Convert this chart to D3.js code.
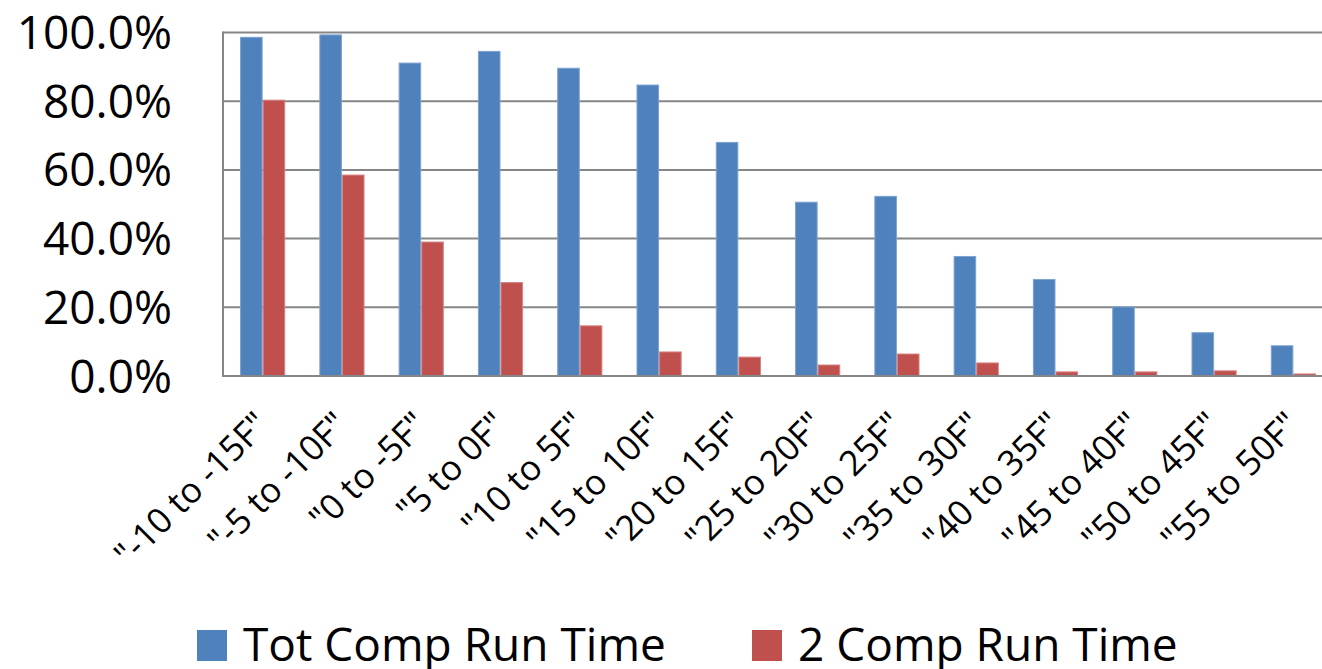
<!DOCTYPE html>
<html>
<head>
<meta charset="utf-8">
<script src="https://cdn.jsdelivr.net/npm/d3@7"></script>
<style>
  html, body { margin: 0; padding: 0; background: #fff; overflow: hidden; }
  svg { display: block; }
  text { font-family: "Open Sans", sans-serif; fill: #000; }
</style>
</head>
<body>
<svg id="chart" width="1322" height="669"></svg>
<script>
const categories = ['"-10 to -15F"', '"-5 to -10F"', '"0 to -5F"', '"5 to 0F"', '"10 to 5F"', '"15 to 10F"', '"20 to 15F"', '"25 to 20F"', '"30 to 25F"', '"35 to 30F"', '"40 to 35F"', '"45 to 40F"', '"50 to 45F"', '"55 to 50F"'];
const seriesNames = ["Tot Comp Run Time", "2 Comp Run Time"];
const totCompRunTime = [0.986, 0.993, 0.911, 0.945, 0.896, 0.847, 0.680, 0.506, 0.523, 0.348, 0.281, 0.201, 0.126, 0.088];
const twoCompRunTime = [0.803, 0.585, 0.390, 0.272, 0.146, 0.070, 0.055, 0.032, 0.064, 0.038, 0.012, 0.012, 0.015, 0.006];
const yTicks = [0, 0.2, 0.4, 0.6, 0.8, 1.0];
const colors = ["#4F81BD", "#C0504D"];
const strokes = ["#7EA3D1", "#D48482"];

const svg = d3.select("#chart");
const x0 = 223, x1 = 1333, yTop = 32.5, yBot = 376;

const x = d3.scaleBand().domain(categories).range([x0, x1]).paddingInner(0.43).paddingOuter(0.215);
const xs = d3.scaleBand().domain(seriesNames).range([0, x.bandwidth()]);
const y = d3.scaleLinear().domain([0, 1]).range([yBot, yTop]);
const xCat = d3.scaleBand().domain(categories).range([x0, x1]);

// gridlines
svg.append("g").selectAll("line").data(yTicks.filter(d => d > 0)).join("line")
  .attr("x1", x0).attr("x2", 1322)
  .attr("y1", d => y(d)).attr("y2", d => y(d))
  .attr("stroke", "#868686").attr("stroke-width", 2);

// y labels
const yAxis = d3.axisLeft(y).tickValues(yTicks).tickFormat(d3.format(".1%")).tickSize(0).tickPadding(0);
const yg = svg.append("g").attr("transform", `translate(${172},0)`).call(yAxis);
yg.select(".domain").remove();
yg.selectAll("text").attr("font-size", 46).attr("font-family", '"Open Sans", sans-serif')
  .attr("fill", "#000").attr("dy", 16).attr("x", 0);

// bars
const data = categories.map((c, i) => ({ c, vals: [totCompRunTime[i], twoCompRunTime[i]] }));
const groups = svg.append("g").selectAll("g").data(data).join("g")
  .attr("transform", d => `translate(${x(d.c)},0)`);
groups.selectAll("rect").data(d => d.vals.map((v, k) => ({ v, k }))).join("rect")
  .attr("x", d => xs(seriesNames[d.k]) + 0.5)
  .attr("width", xs.bandwidth() - 1)
  .attr("y", d => y(d.v))
  .attr("height", d => yBot - y(d.v))
  .attr("fill", d => colors[d.k])
  .attr("stroke", d => strokes[d.k]).attr("stroke-width", 1);

// axes lines
svg.append("line").attr("x1", x0).attr("x2", 1322).attr("y1", yBot).attr("y2", yBot)
  .attr("stroke", "#868686").attr("stroke-width", 2);
svg.append("line").attr("x1", x0).attr("x2", x0).attr("y1", yTop - 1).attr("y2", yBot + 1)
  .attr("stroke", "#868686").attr("stroke-width", 2);

// x labels
svg.append("g").selectAll("text").data(categories).join("text")
  .attr("transform", d => `translate(${xCat(d) + xCat.bandwidth() / 2 + 8},427) rotate(-45)`)
  .attr("text-anchor", "end")
  .attr("font-size", 35)
  .text(d => d);

// legend
const legendItems = [{ name: seriesNames[0], sx: 197, tx: 243 }, { name: seriesNames[1], sx: 752, tx: 798 }];
const lg = svg.append("g").selectAll("g").data(legendItems).join("g");
lg.append("rect").attr("x", d => d.sx).attr("y", 630).attr("width", 30).attr("height", 31)
  .attr("fill", (d, i) => colors[i]);
lg.append("text").attr("x", d => d.tx).attr("y", 661).attr("font-size", 46).text(d => d.name);
</script>
</body>
</html>
